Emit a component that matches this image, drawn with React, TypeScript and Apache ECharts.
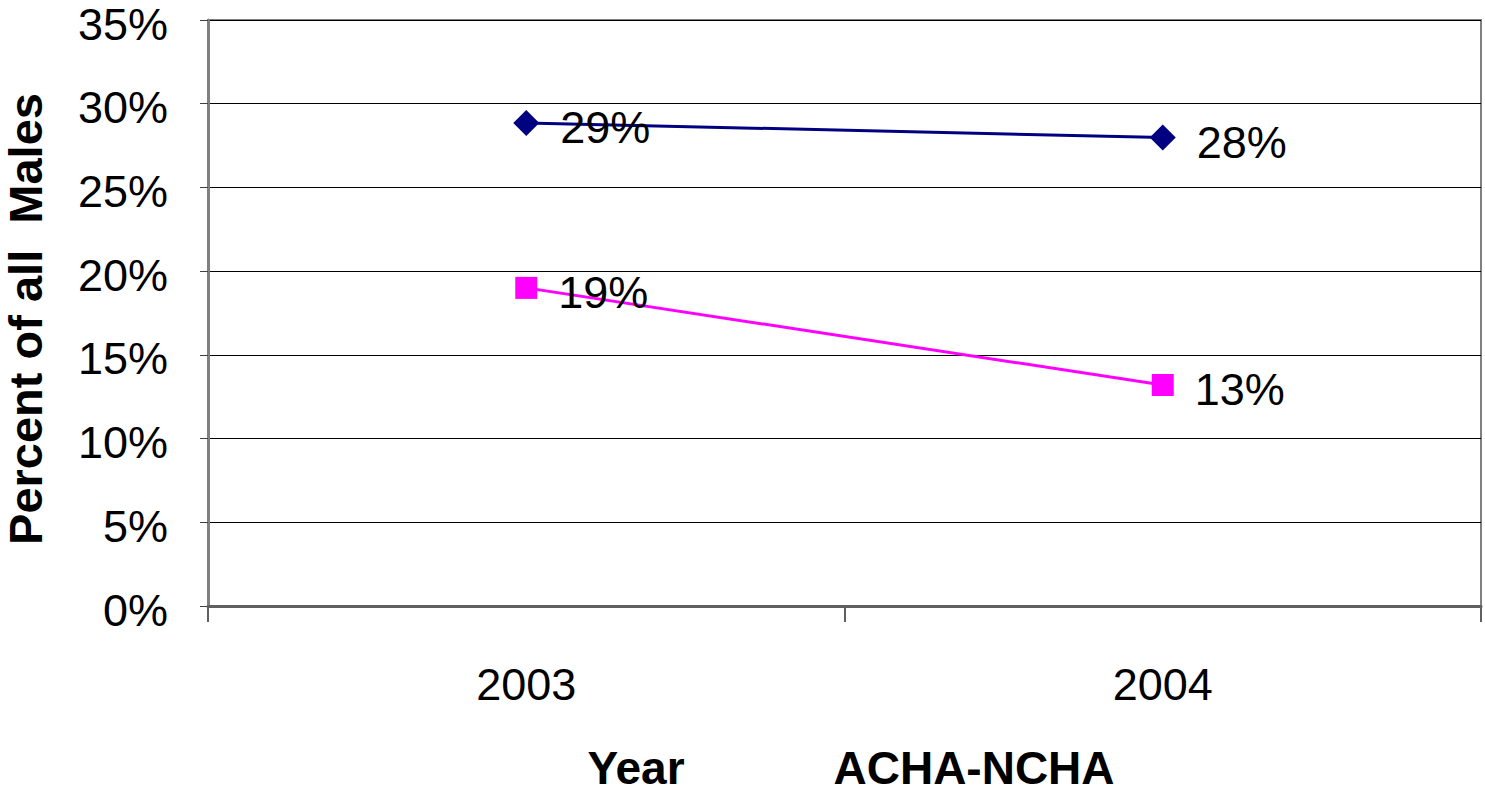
import React, { useEffect, useRef } from "react";
import * as echarts from "echarts";

// Survey years and the share of all males in each group
const years = ["2003", "2004"];
const navySeries = [28.85, 27.98];
const magentaSeries = [19.0, 13.2];
const yTicks = [0, 5, 10, 15, 20, 25, 30, 35];

const FONT = "Arial, 'Liberation Sans', Helvetica, sans-serif";

export default function App() {
  const ref = useRef<HTMLDivElement>(null);

  useEffect(() => {
    if (!ref.current) return;
    const chart = echarts.init(ref.current, null, { renderer: "svg" });

    const label = {
      show: true,
      position: "right" as const,
      distance: 21,
      offset: [0, 5],
      color: "#000",
      fontFamily: FONT,
      fontSize: 45,
      formatter: (p: any) => `${Math.round(p.value)}%`,
    };

    chart.setOption({
      animation: false,
      backgroundColor: "#fff",
      grid: {
        left: 208,
        right: 4,
        top: 20,
        bottom: 187,
        outerBoundsMode: "none",
        show: true,
        borderColor: "#808080",
        borderWidth: 2,
        backgroundColor: "transparent",
      },
      xAxis: {
        type: "category",
        data: years,
        boundaryGap: true,
        axisLine: { lineStyle: { color: "#606060", width: 3 } },
        axisTick: { show: true, length: 16, lineStyle: { color: "#606060", width: 2 } },
        axisLabel: { color: "#000", fontFamily: FONT, fontSize: 45, margin: 56 },
        splitLine: { show: false },
      },
      yAxis: {
        type: "value",
        min: yTicks[0],
        max: yTicks[yTicks.length - 1],
        interval: 5,
        axisLine: { show: true, lineStyle: { color: "#808080", width: 3 } },
        axisTick: { show: true, length: 8, lineStyle: { color: "#404040", width: 1 } },
        axisLabel: {
          color: "#000",
          fontFamily: FONT,
          fontSize: 45,
          margin: 40,
          formatter: (v: number) => `{t|${v}%}`,
          rich: {
            t: {
              color: "#000",
              fontFamily: FONT,
              fontSize: 45,
              lineHeight: 40,
              padding: [8, 0, 0, 0],
            },
          },
        },
        splitLine: { show: true, lineStyle: { color: "#000", width: 1 } },
      },
      series: [
        {
          type: "line",
          data: navySeries,
          symbol: "diamond",
          symbolSize: 26,
          lineStyle: { color: "#000080", width: 3 },
          itemStyle: { color: "#000080" },
          label,
          z: 3,
        },
        {
          type: "line",
          data: magentaSeries,
          symbol: "rect",
          symbolSize: 22,
          lineStyle: { color: "#FF00FF", width: 3 },
          itemStyle: { color: "#FF00FF" },
          label,
          z: 3,
        },
      ],
      graphic: [
        {
          type: "text",
          x: 25,
          y: 319,
          rotation: Math.PI / 2,
          style: {
            text: "Percent of all  Males",
            fontFamily: FONT,
            fontWeight: "bold",
            fontSize: 47,
            fill: "#000",
            align: "center",
            verticalAlign: "middle",
          },
        },
        {
          type: "text",
          x: 636,
          y: 768,
          style: {
            text: "Year",
            fontFamily: FONT,
            fontWeight: "bold",
            fontSize: 46,
            fill: "#000",
            align: "center",
            verticalAlign: "middle",
          },
        },
        {
          type: "text",
          x: 974,
          y: 768,
          style: {
            text: "ACHA-NCHA",
            fontFamily: FONT,
            fontWeight: "bold",
            fontSize: 46,
            fill: "#000",
            align: "center",
            verticalAlign: "middle",
          },
        },
      ],
    });

    return () => chart.dispose();
  }, []);

  return (
    <div
      ref={ref}
      style={{ position: "absolute", left: 0, top: 0, width: 1485, height: 793 }}
    />
  );
}
